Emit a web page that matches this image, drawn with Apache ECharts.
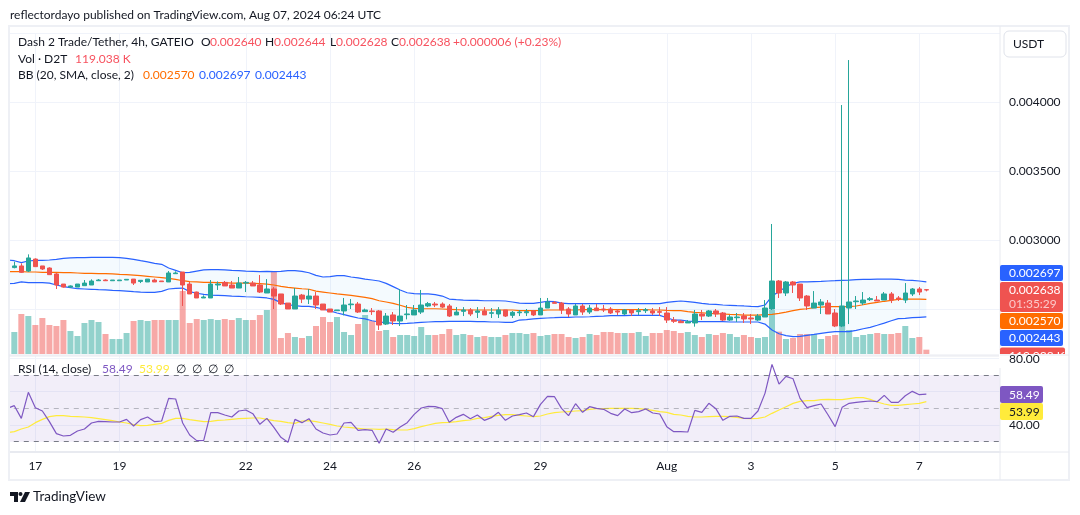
<!DOCTYPE html>
<html><head><meta charset="utf-8">
<style>html,body{margin:0;padding:0;background:#fff}#c{width:1080px;height:515px}</style>
<script src="https://cdn.jsdelivr.net/npm/echarts@6/dist/echarts.min.js"></script>
</head><body><div id="c"></div>
<script>
// Prices in millionths of USDT, volumes in thousands.
const opens=[2800,2812,2775,2862,2812,2797,2754,2681,2659,2659,
2669,2674,2705,2710,2705,2705,2710,2717,2700,2696,
2710,2703,2696,2756,2768,2681,2623,2580,2580,2674,
2693,2674,2652,2688,2688,2674,2616,2645,2609,2543,
2500,2601,2572,2594,2536,2500,2488,2486,2531,2536,
2481,2486,2486,2391,2457,2413,2459,2457,2478,2522,
2536,2536,2522,2457,2483,2493,2476,2486,2469,2464,
2493,2454,2473,2473,2486,2457,2507,2548,2543,2500,
2457,2522,2478,2507,2500,2500,2486,2464,2493,2481,
2488,2486,2481,2471,2420,2411,2399,2399,2464,2449,
2486,2471,2420,2437,2449,2435,2420,2442,2500,2703,
2616,2696,2681,2594,2507,2529,2543,2471,2377,2507,
2553,2543,2568,2565,2565,2609,2580,2565,2609,2645,2640];
const closes=[2812,2766,2870,2807,2790,2749,2674,2659,2667,2681,
2688,2703,2710,2705,2710,2710,2715,2688,2708,2717,
2696,2698,2761,2761,2674,2609,2580,2587,2681,2681,
2667,2652,2688,2693,2667,2623,2645,2594,2536,2500,
2594,2572,2594,2529,2493,2478,2493,2529,2536,2478,
2493,2481,2384,2449,2413,2449,2464,2493,2529,2539,
2529,2514,2449,2478,2493,2464,2486,2457,2473,2493,
2449,2476,2478,2481,2457,2507,2551,2541,2493,2464,
2522,2478,2507,2488,2493,2471,2478,2493,2471,2488,
2495,2471,2476,2420,2411,2401,2408,2464,2449,2486,
2464,2420,2442,2442,2428,2428,2449,2507,2703,2616,
2696,2674,2580,2522,2543,2551,2464,2377,2522,2551,
2558,2565,2575,2558,2609,2565,2572,2616,2645,2623,2638];
const highs=[2843,2831,2896,2867,2812,2802,2761,2681,2671,2681,
2710,2715,2717,2715,2710,2710,2715,2717,2708,2717,
2720,2703,2775,2773,2768,2698,2626,2599,2710,2700,
2703,2703,2732,2703,2703,2746,2717,2659,2609,2543,
2652,2609,2645,2623,2536,2500,2493,2580,2572,2551,
2503,2507,2493,2471,2478,2645,2529,2529,2638,2551,
2551,2548,2536,2514,2514,2507,2514,2514,2507,2514,
2493,2486,2493,2500,2493,2580,2580,2558,2551,2514,
2536,2536,2529,2536,2529,2514,2500,2500,2500,2507,
2507,2507,2514,2514,2442,2420,2420,2493,2493,2493,
2500,2478,2457,2471,2471,2464,2464,2565,3116,2710,
2703,2703,2681,2601,2630,2572,2565,2500,3978,4304,
2594,2623,2587,2594,2623,2623,2594,2688,2652,2659,2644];
const lows=[2795,2761,2768,2807,2783,2749,2645,2655,2657,2659,
2669,2674,2705,2703,2705,2705,2710,2674,2688,2696,
2696,2698,2696,2756,2522,2609,2580,2580,2580,2638,
2667,2652,2652,2623,2667,2616,2616,2500,2529,2500,
2500,2543,2536,2500,2493,2478,2488,2454,2500,2471,
2481,2457,2348,2384,2384,2377,2425,2457,2464,2514,
2514,2507,2442,2457,2449,2449,2435,2457,2435,2435,
2442,2435,2449,2449,2449,2457,2507,2541,2464,2442,
2457,2457,2464,2488,2478,2464,2457,2457,2449,2457,
2471,2457,2449,2399,2399,2399,2399,2372,2420,2442,
2442,2413,2413,2406,2399,2391,2413,2442,2493,2580,
2594,2616,2558,2493,2507,2464,2464,2369,2369,2391,
2500,2529,2558,2558,2565,2543,2558,2543,2594,2601,2628];
const volumes=[605,1100,1045,798,990,798,770,935,633,495,
853,935,880,550,413,413,578,908,935,908,
935,935,935,935,1733,853,963,935,963,935,
963,935,990,935,935,1073,1210,2256,440,578,
468,440,495,770,1018,880,1018,605,523,825,
1073,908,633,660,468,523,523,495,743,523,
523,550,688,523,550,523,468,495,468,468,
523,578,578,550,578,495,523,550,550,468,
440,468,550,523,605,605,578,578,578,605,
495,578,578,660,633,578,605,523,468,550,
523,578,550,468,523,468,440,468,1210,614,
413,440,550,550,550,413,495,523,880,660,
468,523,550,578,550,550,578,770,440,468,119];
// The indicator lines carry one extra leading reading: they run in from the left edge of the pane.
const bbUpper=[2855,2850,2836,2848,2853,2853,2855,2860,2867,2870,2872,
2872,2874,2874,2874,2874,2872,2867,2860,2850,2841,
2831,2824,2797,2780,2763,2766,2775,2783,2785,2785,
2783,2780,2778,2775,2773,2771,2773,2771,2773,2778,
2778,2773,2763,2744,2732,2734,2742,2742,2732,2725,
2717,2710,2703,2686,2662,2638,2618,2611,2609,2609,
2604,2594,2572,2568,2565,2563,2563,2560,2560,2560,
2558,2551,2543,2541,2541,2548,2556,2553,2543,2539,
2539,2539,2539,2539,2539,2539,2539,2539,2539,2539,
2539,2539,2539,2548,2553,2558,2553,2548,2541,2536,
2534,2529,2527,2524,2522,2519,2517,2529,2594,2626,
2662,2686,2696,2696,2698,2700,2703,2705,2708,2710,
2713,2715,2715,2717,2717,2717,2715,2710,2708,2703,2697];
const bbMiddle=[2771,2771,2771,2768,2768,2766,2766,2766,2763,2763,2761,
2758,2758,2756,2756,2754,2751,2749,2746,2742,2737,
2732,2727,2722,2715,2705,2698,2696,2693,2693,2691,
2691,2688,2688,2688,2686,2684,2681,2674,2664,2657,
2652,2647,2643,2630,2623,2616,2609,2604,2599,2592,
2584,2575,2560,2551,2541,2527,2512,2505,2502,2502,
2502,2500,2498,2495,2493,2493,2493,2493,2493,2493,
2493,2493,2488,2488,2488,2490,2493,2493,2493,2493,
2493,2495,2495,2495,2495,2495,2495,2495,2495,2495,
2495,2493,2493,2490,2488,2488,2481,2476,2473,2469,
2466,2464,2461,2459,2456,2456,2456,2459,2461,2469,
2478,2488,2497,2502,2510,2514,2517,2517,2517,2517,
2522,2531,2541,2548,2556,2563,2570,2572,2572,2572,2570];
const bbLower=[2684,2686,2696,2691,2691,2691,2688,2674,2662,2655,2647,
2645,2643,2640,2638,2635,2633,2630,2626,2623,2621,
2621,2628,2645,2650,2652,2626,2614,2606,2601,2599,
2597,2594,2592,2589,2587,2585,2580,2570,2546,2531,
2524,2519,2519,2512,2500,2486,2471,2459,2447,2435,
2428,2415,2406,2401,2396,2394,2396,2399,2403,2406,
2408,2408,2411,2411,2411,2411,2408,2408,2406,2406,
2403,2403,2420,2423,2428,2432,2435,2437,2440,2440,
2442,2442,2444,2447,2449,2452,2452,2452,2454,2454,
2454,2454,2454,2437,2420,2420,2413,2408,2408,2408,
2408,2408,2406,2406,2406,2406,2406,2391,2348,2321,
2307,2300,2302,2309,2316,2324,2331,2336,2336,2336,
2345,2357,2367,2382,2398,2415,2430,2432,2437,2440,2443];
const rsi=[50,51.6,44,59.6,50.4,48.4,42,34.8,33.4,33.8,36.4,
37.6,41.2,42.2,42,41.8,41.8,43.4,39.4,43.2,44.8,
42,42.4,56,55.6,41.2,34,30.6,30.8,47.4,47.4,
46,44.8,48.4,49,46.8,40.4,44,38.6,32.6,29.6,
43.4,41.4,43.8,37.6,35.2,34,34.6,41.2,41.6,36.8,
37.2,36.8,29,37.6,35.6,38.8,41.4,46.4,50.2,51.2,
51,49.8,41.6,44.6,46.4,43.8,46,42.8,44.4,47.6,
42.8,45.4,46.2,47.2,45,52.4,57.2,57,50,45.6,
52.8,47.6,51,50,49.4,47,45.6,49.6,47.4,48,
49.6,47.2,46.6,39,36,36,35.8,48.8,47.6,53,
49.8,42.8,45.2,45.4,44,44,48.4,59,76.4,64.6,
69.2,67.8,56,50.4,51.6,52.6,46,39,50.6,53,
53.6,54,54.4,54,57.8,53.6,53.6,57.6,60.2,58.2,58.49];
const rsiMa=[35.4,36,37.6,38.8,41.4,43.4,45,45.6,45.6,45.2,45,
44.8,44.4,43.8,43.2,42.6,41.8,41.2,40.2,39.6,39.8,
40.4,41,42.8,44,44,43.2,42.6,42,42.2,42.8,
43,43.4,43.8,44,44.2,44.2,43.4,42.6,42.2,41.4,
41,42.4,42.6,42,41.2,40.4,39.4,38.8,38.4,38,
37.6,37.6,37.4,37.6,37.2,37,37,37.8,39,40,
41,41.4,41.6,42,42.6,43,44,44.4,45.2,45.8,
46.2,46.2,45.8,45.4,45,45.4,46.6,47.4,47.8,48,
48.4,48.6,49.4,49.8,49.8,50,50,50,50,49.8,
49.4,48.8,48,47.6,46.4,46,45.2,44.8,44.8,45,
45.2,45.2,45,44.6,44,43.8,44,44.8,47,49,
51,53,54.2,54.6,54.6,55.2,55.4,55.2,55.2,55.8,
56.4,56.4,55.4,53.8,52.6,51.8,51.8,52.2,52.6,53,53.99];
const tickIndex=[4,16,34,46,58,76,94,106,118,130];
const tickLabels=['17','19','22','24','26','29','Aug','3','5','7'];
const priceTicks=[0.0025,0.003,0.0035,0.004,0.0045];
const priceLabels=[0.003,0.0035,0.004];
const rsiTicks=[80,60,40];
const rsiLabels=[80,40];

const slotCount=142;
const categories=Array.from({length:slotCount},(_,i)=>String(i));
const UP='#26a69a',DOWN='#ef5350',FONT='Lato,"Noto Sans",sans-serif',INK='#131722',LINE='#f0f3fa',EDGE='#e8eaf0';
const micro=a=>a.map(v=>v/1e6);
const tickLabelOf=i=>{const k=tickIndex.indexOf(i);return k<0?'':tickLabels[k];};
const isTick=i=>tickIndex.includes(i);
const candleData=[['-','-','-','-']].concat(opens.map((o,i)=>[o/1e6,closes[i]/1e6,lows[i]/1e6,highs[i]/1e6]));
const volData=[{value:'-'}].concat(volumes.map((v,i)=>({value:v,itemStyle:{color:closes[i]>=opens[i]?'rgba(38,166,154,.5)':'rgba(239,83,80,.5)'}})));
const bandWidth=bbUpper.map((u,i)=>(u-bbLower[i])/1e6);

const txt=(x,y,s,fill,extra)=>({type:'text',x,y,z:30,silent:true,style:Object.assign({text:s,fill:fill||INK,font:'12px '+FONT,textVerticalAlign:'middle'},extra||{})});
const tag=(x,y,w,h,fill,r)=>({type:'rect',z:20,silent:true,shape:{x,y,width:w,height:h,r:r||0},style:{fill}});
const rule=(x1,y1,x2,y2,z)=>({type:'line',z:z||12,silent:true,shape:{x1,y1,x2,y2},style:{stroke:EDGE,lineWidth:1}});
const graphics=[
 {type:'rect',z:10,silent:true,shape:{x:0,y:20,width:9,height:470},style:{fill:'#fff'}},
 txt(10,15,'reflectordayo published on TradingView.com, Aug 07, 2024 06:24 UTC'),
 {type:'rect',z:12,silent:true,shape:{x:9,y:26,width:1060,height:454},style:{fill:'none',stroke:'#eef0f5',lineWidth:2}},
 rule(1000,26,1000,480),
 rule(9,355,1069,355),rule(9,356,1000,356),
 rule(1000,452,1069,452),
 txt(18,42,'Dash 2 Trade/Tether, 4h, GATEIO'),
 txt(201,42,'O'),txt(210,42,'0.002640','#f7525f'),
 txt(265,42,'H'),txt(274,42,'0.002644','#f7525f'),
 txt(330,42,'L'),txt(336,42,'0.002628','#f7525f'),
 txt(391,42,'C'),txt(399,42,'0.002638','#f7525f'),
 txt(453,42,'+0.000006 (+0.23%)','#f7525f'),
 txt(18,59,'Vol · D2T'),txt(75,59,'119.038 K','#f7525f'),
 txt(18,75,'BB (20, SMA, close, 2)'),txt(143,75,'0.002570','#ff6d00'),txt(199,75,'0.002697','#2962ff'),txt(255,75,'0.002443','#2962ff'),
 txt(18,369,'RSI (14, close)'),txt(102,369,'58.49','#7e57c2'),txt(139,369,'53.99','#ffeb3b'),
 txt(176,369,'∅'),txt(192,369,'∅'),txt(208,369,'∅'),txt(224,369,'∅'),
 {type:'rect',z:20,silent:true,shape:{x:1004,y:31,width:62,height:26,r:5},style:{fill:'#fff',stroke:'#e0e3eb',lineWidth:1}},
 txt(1013,44,'USDT'),
 tag(1000,265,63,16,'#2962ff',2),txt(1009,273,'0.002697','#fff'),
 tag(1000,282,63,30,'#ef5350',2),txt(1009,290,'0.002638','#fff'),txt(1009,304,'01:35:29','#fbc9c8'),
 tag(1000,313,63,16,'#ff6d00',2),txt(1009,321,'0.002570','#fff'),
 tag(1000,330,63,16,'#2962ff',2),txt(1009,338,'0.002443','#fff'),
 tag(1000,347.5,65,16,'#ef5350',2),txt(1009,356,'119.038 K','#fff'),
 {type:'rect',z:32,silent:true,shape:{x:999,y:354,width:69,height:14},style:{fill:'#fff'}},
 rule(1000,355,1069,355,33),
 Object.assign(txt(1009,359,'80.00'),{z:34}),
 tag(1000,386,43,17,'#7e57c2',2),txt(1009,395,'58.49','#fff'),
 tag(1000,403,43,17,'#ffeb3b',2),txt(1009,412,'53.99','#131722'),
 txt(33,497,'TradingView',INK,{font:'13.5px '+FONT}),
 {type:'polygon',z:30,silent:true,shape:{points:[[10,492],[18,492],[18,502],[14,502],[14,496],[10,496]]},style:{fill:INK}},
 {type:'circle',z:30,silent:true,shape:{cx:20.5,cy:494,r:2},style:{fill:INK}},
 {type:'polygon',z:30,silent:true,shape:{points:[[25,492],[30,492],[25,502],[20,502]]},style:{fill:INK}}
];

const chart=echarts.init(document.getElementById('c'),null,{renderer:'canvas'});
chart.setOption({
 animation:false,backgroundColor:'#fff',graphic:graphics,
 grid:[{left:3.785,width:996.215,top:33,height:321},{left:3.785,width:996.215,top:356,height:96}],
 xAxis:[
  {type:'category',gridIndex:0,data:categories,axisLine:{show:false},axisTick:{show:false},axisLabel:{show:false},
   splitLine:{show:true,alignWithLabel:true,interval:i=>isTick(i),lineStyle:{color:LINE,width:1}}},
  {type:'category',gridIndex:1,data:categories,axisLine:{show:true,lineStyle:{color:EDGE,width:2}},axisTick:{show:false},
   axisLabel:{interval:i=>isTick(i),formatter:(v,i)=>tickLabelOf(i),color:INK,fontFamily:FONT,fontSize:12,margin:8},
   splitLine:{show:true,alignWithLabel:true,interval:i=>isTick(i),lineStyle:{color:LINE,width:1}}}
 ],
 yAxis:[
  {type:'value',gridIndex:0,position:'right',min:0.002174,max:0.0045,scale:true,
   axisLine:{show:false},axisTick:{show:false,customValues:priceTicks},
   axisLabel:{customValues:priceLabels,formatter:v=>v.toFixed(6),color:INK,fontFamily:FONT,fontSize:12,margin:9},
   splitLine:{show:true,lineStyle:{color:LINE,width:1}}},
  {type:'value',gridIndex:0,min:0,max:8828,show:false,splitLine:{show:false}},
  {type:'value',gridIndex:1,position:'right',min:23.78,max:81.44,
   axisLine:{show:false},axisTick:{show:false,customValues:rsiTicks},
   axisLabel:{customValues:rsiLabels,formatter:v=>v.toFixed(2),color:INK,fontFamily:FONT,fontSize:12,margin:9},
   splitLine:{show:true,lineStyle:{color:LINE,width:1}}}
 ],
 series:[
  {type:'bar',xAxisIndex:0,yAxisIndex:1,data:volData,barWidth:6,silent:true,z:1},
  {type:'line',xAxisIndex:0,yAxisIndex:0,data:micro(bbLower),stack:'bb',symbol:'none',lineStyle:{width:0},silent:true,z:2},
  {type:'line',xAxisIndex:0,yAxisIndex:0,data:bandWidth,stack:'bb',symbol:'none',lineStyle:{width:0},areaStyle:{color:'rgba(33,150,243,.05)',opacity:1},silent:true,z:2},
  {type:'candlestick',xAxisIndex:0,yAxisIndex:0,data:candleData,barWidth:5,silent:true,z:4,
   itemStyle:{color:UP,color0:DOWN,borderColor:UP,borderColor0:DOWN,borderWidth:1}},
  {type:'line',xAxisIndex:0,yAxisIndex:0,data:micro(bbUpper),symbol:'none',lineStyle:{color:'#2962ff',width:1.2},silent:true,z:3},
  {type:'line',xAxisIndex:0,yAxisIndex:0,data:micro(bbLower),symbol:'none',lineStyle:{color:'#2962ff',width:1.2},silent:true,z:3},
  {type:'line',xAxisIndex:0,yAxisIndex:0,data:micro(bbMiddle),symbol:'none',lineStyle:{color:'#ff6d00',width:1.2},silent:true,z:3},
  {type:'line',xAxisIndex:1,yAxisIndex:2,data:rsiMa,symbol:'none',lineStyle:{color:'#ffeb3b',width:1.2},silent:true,z:4},
  {type:'line',xAxisIndex:1,yAxisIndex:2,data:rsi,symbol:'none',lineStyle:{color:'#7e57c2',width:1.2},silent:true,z:5,
   markArea:{silent:true,itemStyle:{color:'rgba(126,87,194,.1)'},data:[[{yAxis:30},{yAxis:70}]]},
   markLine:{silent:true,symbol:'none',label:{show:false},data:[
    {yAxis:70,lineStyle:{color:'#787b86',type:[5,5],width:1}},
    {yAxis:50,lineStyle:{color:'rgba(120,123,134,.5)',type:[5,5],width:1}},
    {yAxis:30,lineStyle:{color:'#787b86',type:[5,5],width:1}}]}}
 ]
});
</script></body></html>
